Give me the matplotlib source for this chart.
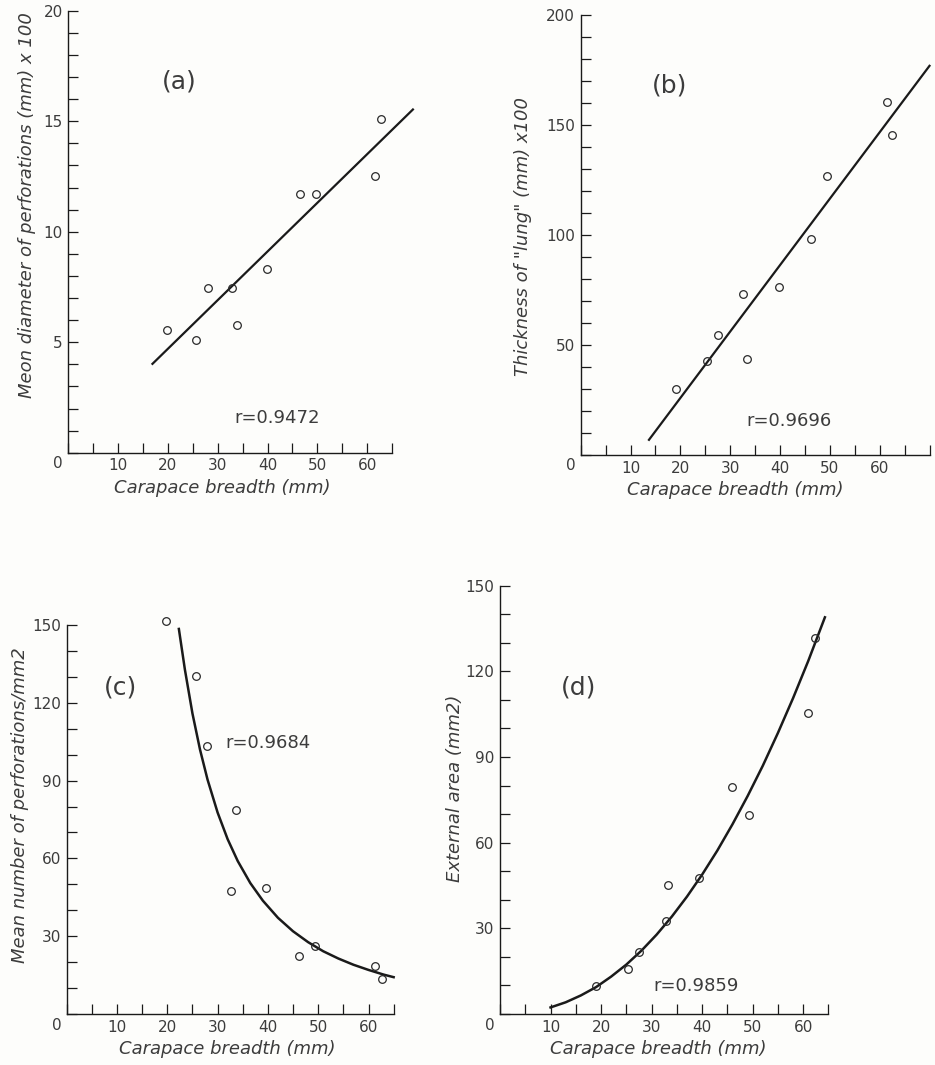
import numpy as np
import matplotlib
matplotlib.use('Agg')
import matplotlib.pyplot as plt

W, H = 935, 1065

# (a) mean diameter of perforations
breadth_a = [19.8, 25.6, 28.1, 32.9, 33.8, 39.8, 46.5, 49.7, 61.6, 62.8]
diam_a = [5.57, 5.1, 7.44, 7.44, 5.77, 8.31, 11.7, 11.7, 12.5, 15.1]
fit_a_x = [16.9, 69.2]
fit_a_y = [4.02, 15.53]

# (b) thickness of "lung"
breadth_b = [19.1, 25.4, 27.6, 32.6, 33.3, 39.7, 46.2, 49.4, 61.4, 62.4]
thick_b = [30.0, 42.9, 54.7, 73.3, 43.5, 76.4, 98.2, 126.7, 160.4, 145.3]
fit_b_x = [13.7, 70.0]
fit_b_y = [6.9, 176.9]

# (c) mean number of perforations / mm2
breadth_c = [19.7, 25.7, 27.8, 33.6, 32.6, 39.7, 46.1, 49.3, 61.3, 62.7]
number_c = [151.4, 130.4, 103.5, 78.8, 47.4, 48.4, 22.3, 26.1, 18.6, 13.5]
curve_c_x = [22.3, 23.5, 25.0, 26.5, 28.0, 30.0, 32.0, 34.0, 36.5, 39.0,
             42.0, 45.0, 48.0, 51.0, 54.0, 57.0, 60.0, 63.0, 65.0]
curve_c_y = [148.5, 132.8, 115.9, 102.0, 90.4, 77.7, 67.4, 59.0, 50.5, 43.7,
             37.1, 31.9, 27.7, 24.2, 21.4, 19.0, 17.0, 15.2, 14.2]

# (d) external area
breadth_d = [19.0, 25.3, 27.6, 32.9, 33.3, 39.3, 46.0, 49.3, 60.9, 62.4]
area_d = [9.9, 15.8, 21.6, 32.5, 45.3, 47.6, 79.4, 69.6, 105.4, 131.7]
curve_d_x = [10, 13, 16, 19, 22, 25, 28, 31, 34, 37, 40, 43, 46, 49, 52,
             55, 58, 61, 64.3]
curve_d_y = [2.3, 4.1, 6.5, 9.4, 13.1, 17.3, 22.2, 27.8, 34.1, 41.1, 48.8,
             57.2, 66.4, 76.3, 86.9, 98.4, 110.6, 123.6, 138.9]

x_ticklabels = ['10', '20', '30', '40', '50', '60']

INK = '#1a1a1a'
TXT = '#3c3c3c'


def make_axes(fig, left, xscale, xmax, bottom, yscale, ymax):
    # left/bottom in pixels from top-left, scales in px per data unit
    w = xscale * xmax
    h = yscale * ymax
    ax = fig.add_axes([left / W, (H - bottom) / H, w / W, h / H])
    ax.set_xlim(0, xmax)
    ax.set_ylim(0, ymax)
    ax.patch.set_alpha(0)
    return ax


def style_axes(ax, xend, ytop, ystep, ylab_step):
    for side in ['top', 'right']:
        ax.spines[side].set_visible(False)
    for side in ['left', 'bottom']:
        ax.spines[side].set_color(INK)
        ax.spines[side].set_linewidth(1.0)
    ax.spines['bottom'].set_bounds(0, xend)
    ax.spines['left'].set_bounds(0, ytop)

    xt = np.arange(0, xend + 1, 5)
    ax.set_xticks(xt)
    ax.set_xticklabels([str(int(v)) if (v % 10 == 0 and 0 < v <= 60) else '' for v in xt])
    yt = np.arange(0, ytop + ystep / 2, ystep)
    ax.set_yticks(yt)
    ax.set_yticklabels([('%g' % v) if (v % ylab_step == 0 and v > 0) else '' for v in yt])
    ax.tick_params(direction='in', length=7, width=0.9, color=INK,
                   labelsize=11, labelcolor=TXT, pad=4)
    ax.annotate('0', xy=(0, 0), xytext=(-10, -11), textcoords='offset pixels',
                ha='center', va='center', fontsize=11, color=TXT,
                annotation_clip=False)


def scatter(ax, x, y):
    ax.plot(x, y, 'o', mfc='none', mec='#2a2a2a', ms=5.5, mew=0.9, clip_on=False)


fig = plt.figure(figsize=(W / 100, H / 100), dpi=100)
fig.patch.set_facecolor('#fdfdfb')

# (a)
ax = make_axes(fig, 68.3, 4.98, 72, 452.7, 22.1, 20)
style_axes(ax, 65, 20, 1, 5)
ax.plot(fit_a_x, fit_a_y, color=INK, lw=1.6, clip_on=False)
scatter(ax, breadth_a, diam_a)
ax.text(22.3, 16.8, '(a)', fontsize=18, color=TXT, ha='center', va='center')
ax.text(41.9, 1.57, 'r=0.9472', fontsize=13, color=TXT, ha='center', va='center')
fig.text(27 / W, 1 - 205 / H, 'Meon diameter of perforations (mm) x 100',
         rotation=90, style='italic', fontsize=13, color=TXT, ha='center', va='center')
fig.text(222 / W, 1 - 488 / H, 'Carapace breadth (mm)', style='italic',
         fontsize=13, color=TXT, ha='center', va='center')

# (b)
ax = make_axes(fig, 580.7, 4.983, 70.5, 455, 2.2, 200)
style_axes(ax, 70, 200, 10, 50)
ax.plot(fit_b_x, fit_b_y, color=INK, lw=1.6, clip_on=False)
scatter(ax, breadth_b, thick_b)
ax.text(17.9, 168, '(b)', fontsize=18, color=TXT, ha='center', va='center')
ax.text(41.9, 15.6, 'r=0.9696', fontsize=13, color=TXT, ha='center', va='center')
fig.text(523 / W, 1 - 237 / H, 'Thickness of "lung" (mm) x100',
         rotation=90, style='italic', fontsize=13, color=TXT, ha='center', va='center')
fig.text(735 / W, 1 - 490 / H, 'Carapace breadth (mm)', style='italic',
         fontsize=13, color=TXT, ha='center', va='center')

# (c)
ax = make_axes(fig, 66.7, 5.03, 72, 1014, 2.593, 160)
style_axes(ax, 65, 150, 10, 30)
ax.plot(curve_c_x, curve_c_y, color=INK, lw=1.8, clip_on=False)
scatter(ax, breadth_c, number_c)
ax.text(10.6, 125.8, '(c)', fontsize=18, color=TXT, ha='center', va='center')
ax.text(40.1, 104.7, 'r=0.9684', fontsize=13, color=TXT, ha='center', va='center')
fig.text(20 / W, 1 - 805 / H, 'Mean number of perforations/mm2',
         rotation=90, style='italic', fontsize=13, color=TXT, ha='center', va='center')
fig.text(227 / W, 1 - 1049 / H, 'Carapace breadth (mm)', style='italic',
         fontsize=13, color=TXT, ha='center', va='center')

# (d)
ax = make_axes(fig, 500, 5.053, 72, 1014, 2.856, 150)
style_axes(ax, 65, 150, 10, 30)
ax.plot(curve_d_x, curve_d_y, color=INK, lw=1.8, clip_on=False)
scatter(ax, breadth_d, area_d)
ax.text(15.5, 114.2, '(d)', fontsize=18, color=TXT, ha='center', va='center')
ax.text(38.8, 9.9, 'r=0.9859', fontsize=13, color=TXT, ha='center', va='center')
fig.text(455 / W, 1 - 788 / H, 'External area (mm2)',
         rotation=90, style='italic', fontsize=13, color=TXT, ha='center', va='center')
fig.text(658 / W, 1 - 1049 / H, 'Carapace breadth (mm)', style='italic',
         fontsize=13, color=TXT, ha='center', va='center')

fig.savefig('out.png', dpi=100, facecolor=fig.get_facecolor())
